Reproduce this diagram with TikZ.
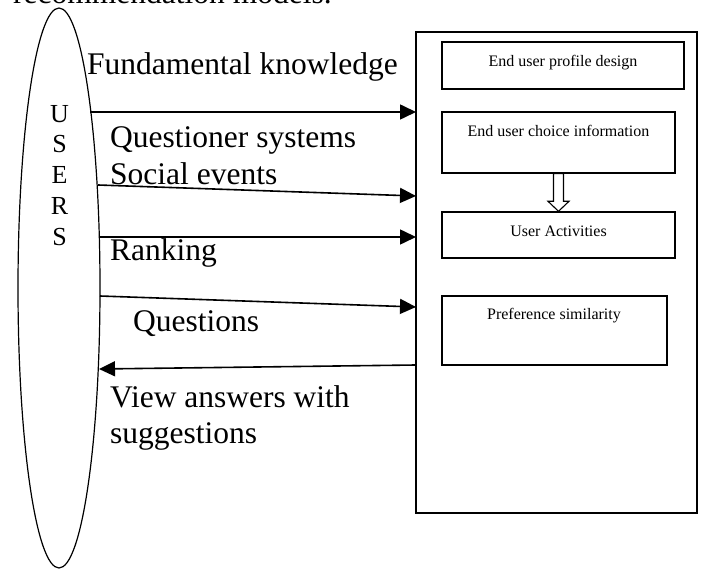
\documentclass[tikz,border=0pt]{standalone}
\usepackage{fontspec}
\setmainfont{Liberation Serif}
\usetikzlibrary{shapes.geometric,arrows.meta,calc}
\tikzset{
  lbl/.style={inner sep=0pt, anchor=base west, font=\fontsize{31.5}{36}\selectfont},
  boxtxt/.style={inner sep=0pt, anchor=base, font=\fontsize{16}{19}\selectfont},
  box/.style={draw, line width=1.4pt, inner sep=0pt, rectangle},
  flow/.style={line width=1.6pt, -{Triangle[length=16pt,width=15pt]}},
}
\begin{document}
\begin{tikzpicture}[x=1pt,y=-1pt]
\useasboundingbox (0,0) rectangle (702,569);
\clip (0,0) rectangle (702,569);

% partial caption at top
\node[lbl] (cap) at (13,4) {recommendation models.};

% users ellipse
\node[draw, ellipse, line width=1.2pt, minimum width=82pt, minimum height=560pt, inner sep=0pt] (users) at (59,288) {};
\node[inner sep=0pt, anchor=north, align=center, font=\fontsize{26}{30.7}\selectfont] (usertxt) at (59.5,105) {U\\S\\E\\R\\S};

% system rectangle
\node[box, line width=1.3pt, minimum width=281pt, minimum height=481pt] (main) at (556.5,272.5) {};

% inner boxes
\node[box, minimum width=242pt, minimum height=47pt] (b1) at (563,65.5) {};
\node[box, minimum width=233pt, minimum height=61pt] (b2) at (558.5,142.5) {};
\node[box, minimum width=233pt, minimum height=46pt] (b3) at (558.5,235) {};
\node[box, minimum width=225pt, minimum height=69pt] (b4) at (554.5,330.5) {};

\node[boxtxt] (t1) at (563,67) {End user profile design};
\node[boxtxt] (t2) at (558.5,137) {End user choice information};
\node[boxtxt] (t3) at (558.5,237) {User Activities};
\node[boxtxt] (t4) at (554,320) {Preference similarity};

% hollow arrow b2 -> b3
\draw[line width=1.1pt, fill=white]
  ($(b2.south)+(-5,0)$) -- ($(b3.north)+(-5,-10)$) -- ($(b3.north)+(-10.5,-10)$)
  -- (b3.north) -- ($(b3.north)+(10.5,-10)$) -- ($(b3.north)+(5,-10)$)
  -- ($(b2.south)+(5,0)$) -- cycle;

% connector end points
\coordinate (s1) at (90,112);   \coordinate (e1) at (416,112);
\coordinate (s2) at (98,185);   \coordinate (e2) at (416,196);
\coordinate (s3) at (99,237);   \coordinate (e3) at (416,237);
\coordinate (s4) at (100,296);  \coordinate (e4) at (416,307);
\coordinate (s5) at (416,365);  \coordinate (e5) at (99,369);

\draw[flow] (s1) -- (e1);
\draw[flow] (s2) -- (e2);
\draw[flow] (s3) -- (e3);
\draw[flow] (s4) -- (e4);
\draw[flow] (s5) -- (e5);

% labels
\node[lbl] (l1) at (87,75) {Fundamental knowledge};
\node[lbl] (l2) at (110,148) {Questioner systems};
\node[lbl] (l3) at (110,185) {Social events};
\node[lbl] (l4) at (110,261) {Ranking};
\node[lbl] (l5) at (133,332) {Questions};
\node[lbl] (l6) at (110,407) {View answers with};
\node[lbl] (l7) at (110,443) {suggestions};
\end{tikzpicture}
\end{document}
